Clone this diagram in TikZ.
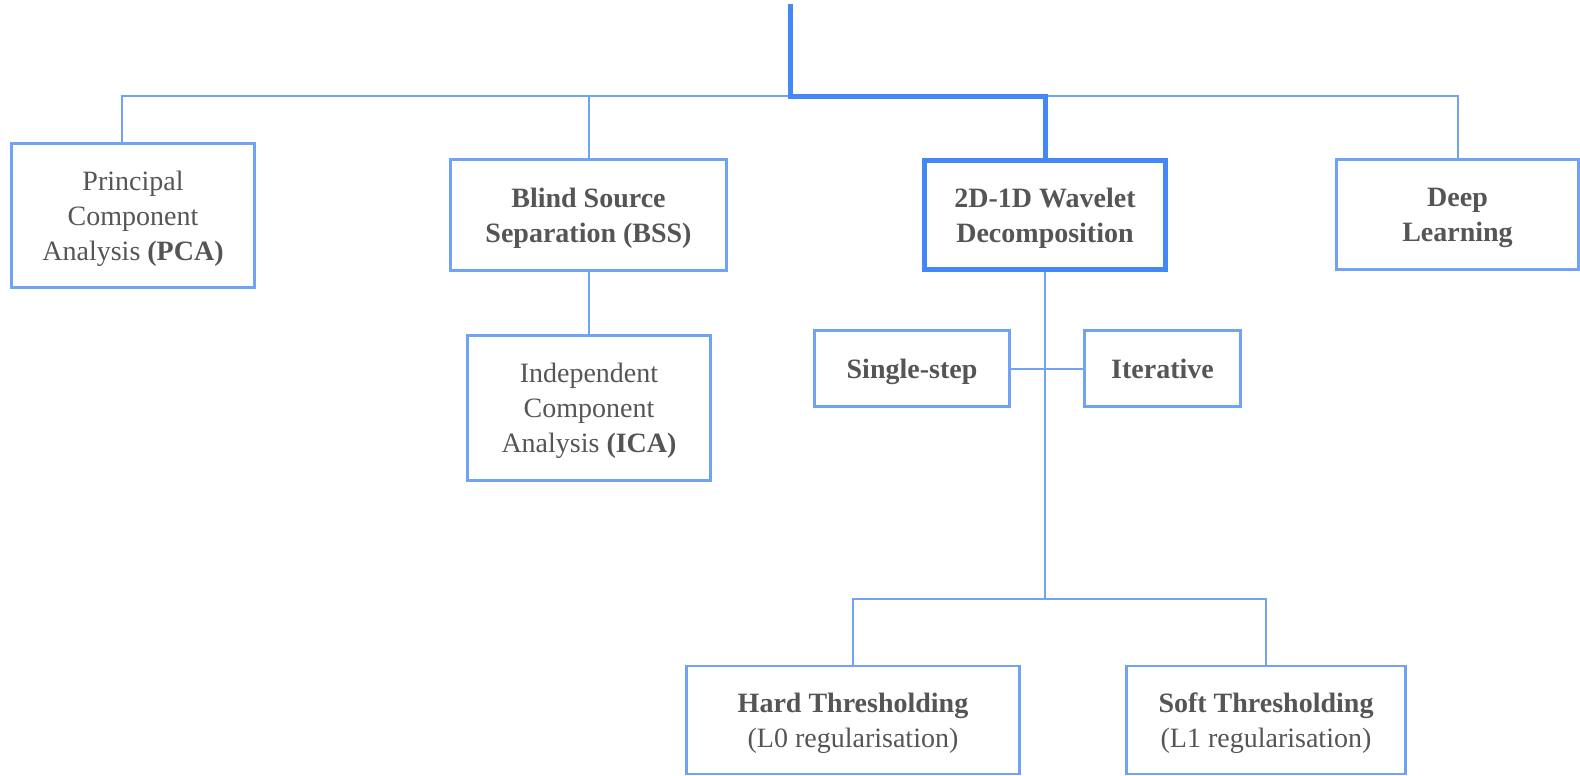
\documentclass[tikz,border=0pt]{standalone}
\usepackage{fontspec}
\setmainfont{Liberation Serif}
\definecolor{thinblue}{HTML}{70A3F5}
\definecolor{thickblue}{HTML}{4388F4}
\definecolor{txtgray}{HTML}{555555}
\begin{document}
\begin{tikzpicture}[x=1pt,y=-1pt,
  box/.style={draw=thinblue,line width=2.4pt,rectangle,align=center,text=txtgray,
    inner sep=0pt,text depth=0pt,font=\fontsize{28}{35}\selectfont},
  mainbox/.style={box,draw=thickblue,line width=5pt},
  thin/.style={draw=thinblue,line width=2pt},
  thick/.style={draw=thickblue,line width=5pt}]
\useasboundingbox (0,0) rectangle (1580,776);
\node[box,minimum width=243pt,minimum height=144pt] (pca) at (133,215.5) {Principal\\Component\\Analysis \textbf{(PCA)}};
\node[box,minimum width=276pt,minimum height=111pt] (bss) at (588.5,215) {\textbf{Blind Source}\\\textbf{Separation (BSS)}};
\node[box,minimum width=243pt,minimum height=145pt] (ica) at (589,408) {Independent\\Component\\Analysis \textbf{(ICA)}};
\node[mainbox,minimum width=241pt,minimum height=109pt] (wav) at (1045,215) {\textbf{2D-1D Wavelet}\\\textbf{Decomposition}};
\node[box,minimum width=242pt,minimum height=110pt] (deep) at (1457.5,214.5) {\textbf{Deep}\\\textbf{Learning}};
\node[box,minimum width=195pt,minimum height=76pt] (single) at (912,368.5) {\textbf{Single-step}};
\node[box,minimum width=156pt,minimum height=76pt] (iter) at (1162.5,368.5) {\textbf{Iterative}};
\node[box,minimum width=333pt,minimum height=108pt] (hard) at (853,720) {\textbf{Hard Thresholding}\\(L0 regularisation)};
\node[box,minimum width=279pt,minimum height=108pt] (soft) at (1266,720) {\textbf{Soft Thresholding}\\(L1 regularisation)};
\coordinate (top) at (790,4);
\coordinate (bar) at (790,96);
\coordinate (pcaj) at (122,96);
\coordinate (pcat) at (122,143.5);
\coordinate (deepj) at (1457.5,96);
\coordinate (wavj) at (1045,599);
% thin top bar
\draw[thin] (pcat) -- (pcaj) -- (deepj) -- (deep.north);
\draw[thin] (bss.north |- bar) -- (bss.north);
\draw[thin] (bss.south) -- (bss.south |- ica.north);
% wavelet tree
\draw[thin] (wav.south) -- (wavj);
\draw[thin] (single.east) -- (iter.west);
\draw[thin] (hard.north) -- (hard.north |- wavj) -- (soft.north |- wavj) -- (soft.north);
% thick path
\draw[thick] (top) -- (bar) -- (wav.north |- bar) -- (wav.north);
\end{tikzpicture}
\end{document}
